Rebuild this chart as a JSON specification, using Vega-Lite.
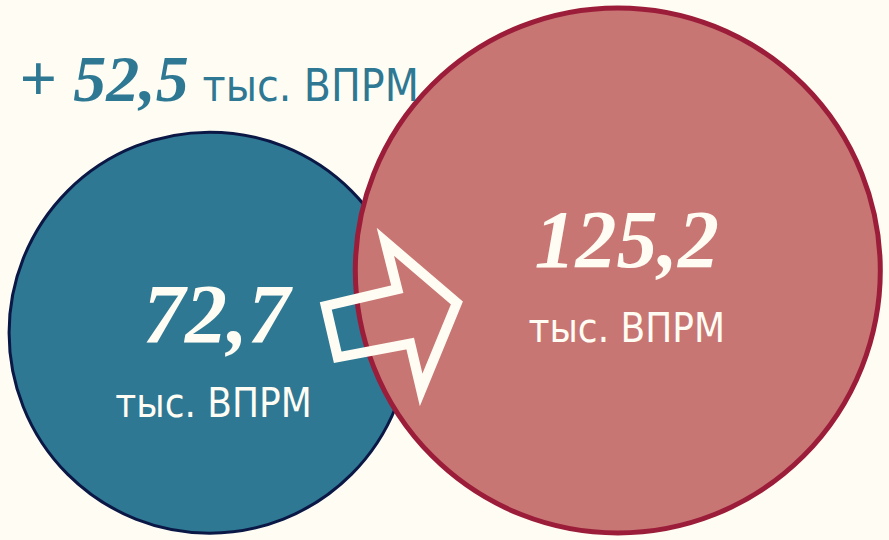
{
  "$schema": "https://vega.github.io/schema/vega-lite/v6.json",
  "width": 889,
  "height": 540,
  "autosize": {"type": "fit", "contains": "padding"},
  "padding": 0,
  "background": "#fffdf3",
  "config": {"view": {"stroke": null}},
  "datasets": {
    "circles": [
      {"name": "before", "x": 211, "y": 337, "area": 160801, "fill": "#2e7894", "stroke": "#0b1846", "sw": 3},
      {"name": "after", "x": 622, "y": 274, "area": 275625, "fill": "#c87673", "stroke": "#9b1d3a", "sw": 5}
    ],
    "arrow": [
      {"i": 0, "x": 460, "y": 307},
      {"i": 1, "x": 388, "y": 245},
      {"i": 2, "x": 400, "y": 293},
      {"i": 3, "x": 328, "y": 310},
      {"i": 4, "x": 340, "y": 362},
      {"i": 5, "x": 413, "y": 348},
      {"i": 6, "x": 424, "y": 395},
      {"i": 7, "x": 460, "y": 307},
      {"i": 8, "x": 388, "y": 245}
    ],
    "topnum": [
      {"label": "+ 52,5", "x": 190, "y": 102}
    ],
    "topunit": [
      {"label": "тыс. ВПРМ", "x": 204, "y": 102}
    ],
    "numbers": [
      {"label": "72,7", "x": 218, "y": 347, "size": 84},
      {"label": "125,2", "x": 631, "y": 271, "size": 82}
    ],
    "units": [
      {"label": "тыс. ВПРМ", "x": 215, "y": 422},
      {"label": "тыс. ВПРМ", "x": 631, "y": 346}
    ]
  },
  "layer": [
    {
      "data": {"name": "circles"},
      "mark": {"type": "point", "shape": "circle", "filled": true, "opacity": 1},
      "encoding": {
        "x": {"field": "x", "type": "quantitative", "scale": {"domain": [0, 889], "nice": false, "zero": false}, "axis": null},
        "y": {"field": "y", "type": "quantitative", "scale": {"domain": [540, 0], "nice": false, "zero": false}, "axis": null},
        "size": {"field": "area", "type": "quantitative", "scale": null, "legend": null},
        "fill": {"field": "fill", "type": "nominal", "scale": null, "legend": null},
        "stroke": {"field": "stroke", "type": "nominal", "scale": null, "legend": null},
        "strokeWidth": {"field": "sw", "type": "quantitative", "scale": null, "legend": null},
        "order": {"field": "x", "type": "quantitative"}
      }
    },
    {
      "data": {"name": "arrow"},
      "mark": {"type": "line", "color": "#fffdf3", "strokeWidth": 10, "strokeJoin": "miter", "strokeMiterLimit": 10},
      "encoding": {
        "x": {"field": "x", "type": "quantitative"},
        "y": {"field": "y", "type": "quantitative"},
        "order": {"field": "i", "type": "quantitative"}
      }
    },
    {
      "data": {"name": "topnum"},
      "mark": {"type": "text", "font": "Liberation Serif", "fontWeight": "bold", "fontStyle": "italic", "baseline": "alphabetic", "align": "right", "fontSize": 66, "color": "#2e7894"},
      "encoding": {
        "x": {"field": "x", "type": "quantitative"},
        "y": {"field": "y", "type": "quantitative"},
        "text": {"field": "label"}
      }
    },
    {
      "data": {"name": "topunit"},
      "mark": {"type": "text", "font": "DejaVu Sans Condensed", "baseline": "alphabetic", "align": "left", "fontSize": 44, "color": "#2e7894"},
      "encoding": {
        "x": {"field": "x", "type": "quantitative"},
        "y": {"field": "y", "type": "quantitative"},
        "text": {"field": "label"}
      }
    },
    {
      "data": {"name": "numbers"},
      "mark": {"type": "text", "font": "Liberation Serif", "fontWeight": "bold", "fontStyle": "italic", "baseline": "alphabetic", "align": "center", "color": "#fffdf3"},
      "encoding": {
        "x": {"field": "x", "type": "quantitative"},
        "y": {"field": "y", "type": "quantitative"},
        "text": {"field": "label"},
        "size": {"field": "size", "type": "quantitative", "scale": null, "legend": null}
      }
    },
    {
      "data": {"name": "units"},
      "mark": {"type": "text", "font": "DejaVu Sans Condensed", "baseline": "alphabetic", "align": "center", "fontSize": 40, "color": "#fffdf3"},
      "encoding": {
        "x": {"field": "x", "type": "quantitative"},
        "y": {"field": "y", "type": "quantitative"},
        "text": {"field": "label"}
      }
    }
  ]
}
